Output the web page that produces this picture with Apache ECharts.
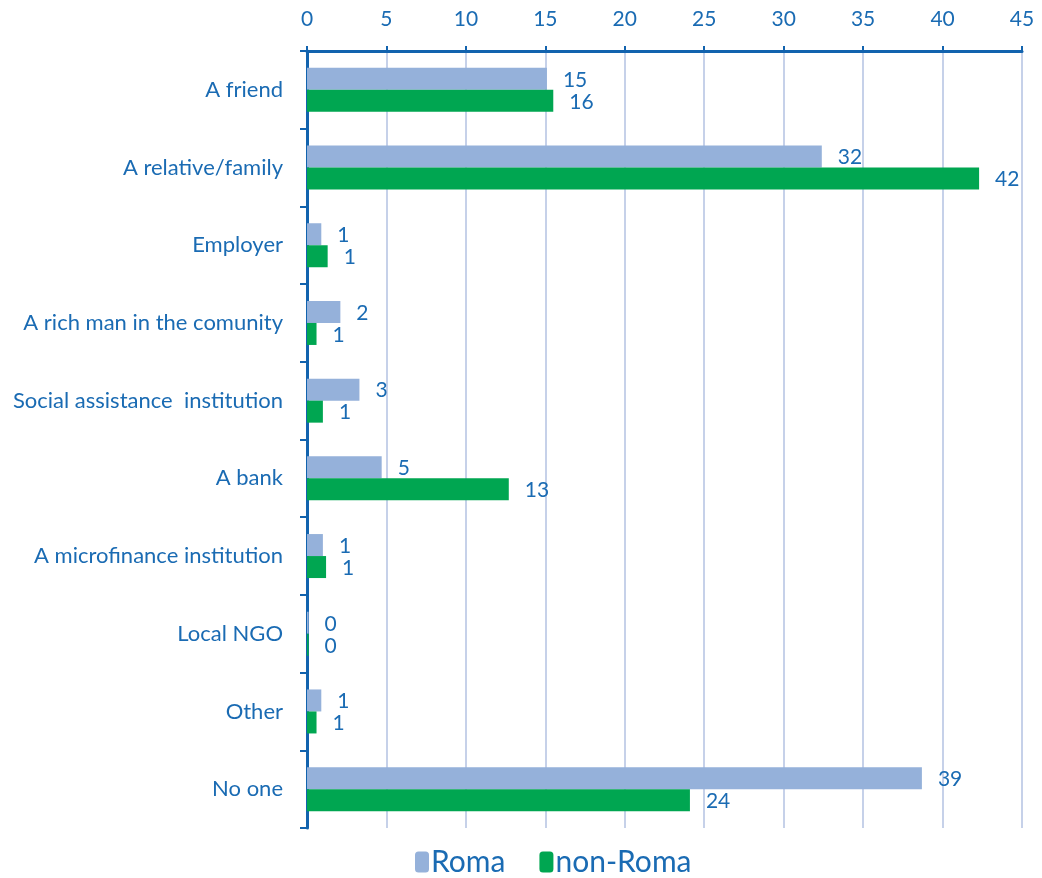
<!DOCTYPE html>
<html><head><meta charset="utf-8">
<script src="https://cdn.jsdelivr.net/npm/echarts@6/dist/echarts.min.js"></script>
<style>html,body{margin:0;padding:0;background:#fff}#c{width:1042px;height:878px}</style>
</head><body><div id="c"></div>
<script>
var categories = ["A friend","A relative/family","Employer","A rich man in the comunity","Social assistance  institution","A bank","A microfinance institution","Local NGO","Other","No one"];
var roma = [15.1, 32.4, 0.9, 2.1, 3.3, 4.7, 1.0, 0.1, 0.9, 38.7];
var nonRoma = [15.5, 42.3, 1.3, 0.6, 1.0, 12.7, 1.2, 0.1, 0.6, 24.1];
var xTicks = [0,5,10,15,20,25,30,35,40,45];

var txt = '#1A6BB3';
var font = 'Lato';
var chart = echarts.init(document.getElementById('c'));
function lbl(p){ return Math.round(p.value); }
chart.setOption({
  animation:false,
  textStyle:{fontFamily:font},
  grid:{left:307, right:20, top:51, bottom:50, containLabel:false},
  legend:{bottom:-4, left:410, itemWidth:14, itemHeight:21, itemGap:34,
    textStyle:{color:txt, fontSize:30, fontFamily:font, padding:[0,0,0,-3]},
    data:['Roma','non-Roma']},
  xAxis:{type:'value', position:'top', min:0, max:45, interval:5,
    axisLine:{show:true, lineStyle:{color:'#1263AE', width:3}},
    axisTick:{show:true, length:5, lineStyle:{color:'#1263AE', width:2}},
    axisLabel:{color:txt, fontSize:21, margin:21, formatter:function(v){return xTicks.indexOf(v)>=0?String(v):'';}},
    splitLine:{show:true, lineStyle:{color:'#B3C2E2', width:1.5}}},
  yAxis:{type:'category', inverse:true, data:categories,
    axisLine:{show:true, lineStyle:{color:'#1263AE', width:3}},
    axisTick:{show:true, length:7, lineStyle:{color:'#1263AE', width:2}},
    axisLabel:{color:txt, fontSize:22, margin:24}},
  series:[
    {name:'Roma', type:'bar', data:roma, barWidth:22, barGap:'0%',
      itemStyle:{color:'#95B1DA'},
      label:{show:true, position:'right', distance:16, color:txt, fontSize:21, offset:[0,1], formatter:lbl}},
    {name:'non-Roma', type:'bar', data:nonRoma, barWidth:22,
      itemStyle:{color:'#00A651'},
      label:{show:true, position:'right', distance:16, color:txt, fontSize:21, offset:[0,1], formatter:lbl}}
  ]
});
</script></body></html>
